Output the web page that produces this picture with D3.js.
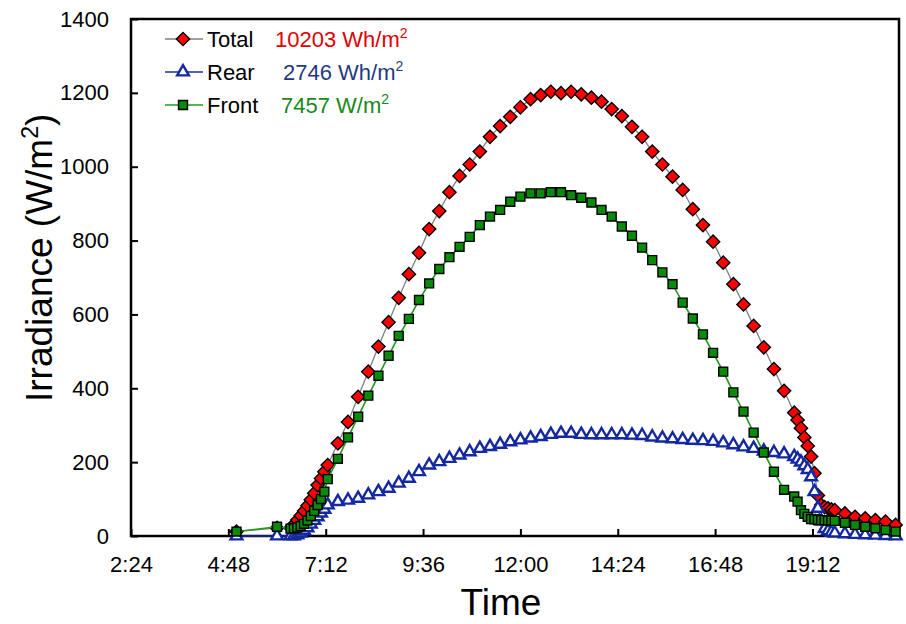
<!DOCTYPE html>
<meta charset="utf-8">
<style type="text/css">
body { margin: 0; background: #fff; }
svg { font-family: "Liberation Sans", Arial, sans-serif; }
.axis text { font-size: 22px; fill: #000; }
.axis line { stroke: #000; stroke-width: 2; }
.axis path { display: none; }
.frame { fill: none; stroke: #000; stroke-width: 2.5; }
</style>
<body>
<script src="https://d3js.org/d3.v7.min.js"></script>
<script>

// sample times (h:mm) shared by the three series
var times = ["5:00","6:00",
  "6:20","6:25","6:30","6:35","6:40","6:45","6:50","6:55","7:00","7:05","7:10",
  "7:15","7:30","7:45","8:00","8:15","8:30","8:45","9:00","9:15","9:30",
  "9:45","10:00","10:15","10:30","10:45","11:00","11:15","11:30","11:45","12:00","12:15","12:30","12:45","13:00","13:15",
  "13:30","13:45","14:00","14:15","14:30","14:45","15:00","15:15","15:30","15:45","16:00","16:15","16:30","16:45",
  "17:00","17:15","17:30","17:45","18:00","18:15","18:30","18:45",
  "18:50","18:55","19:00","19:05","19:10","19:15","19:20","19:25","19:30","19:35","19:40",
  "19:45","20:00","20:15","20:30","20:45","21:00","21:15"];

var total = [12, 22,
  22, 30, 43, 55, 68, 82, 98, 116, 138, 156, 174,
  192, 251, 309, 377, 445, 513, 579, 645, 709, 767,
  831, 880, 931, 975, 1006, 1041, 1081, 1110, 1135, 1161, 1183, 1194, 1203, 1199, 1203,
  1196, 1187, 1176, 1156, 1137, 1108, 1081, 1041, 1006, 973, 937, 885, 842, 797,
  740, 682, 627, 569, 511, 452, 393, 334,
  314, 292, 267, 244, 215, 170, 110, 84, 78, 75, 72,
  70, 61, 52, 48, 43, 39, 30];

var rear = [0, 0,
  0, 0, 3, 8, 14, 22, 32, 42, 52, 62, 72,
  84, 93, 97, 102, 111, 120, 129, 143, 156, 174,
  192, 201, 210, 219, 228, 237, 242, 248, 255, 260, 265, 269, 275, 278, 278,
  275, 274, 274, 274, 274, 273, 272, 268, 265, 263, 261, 259, 258, 256,
  252, 247, 241, 237, 230, 226, 222, 215,
  208, 200, 190, 180, 160, 120, 75, 40, 20, 14, 10,
  8, 6, 4, 3, 2, 1, 0];

var front = [12, 25,
  20, 21, 23, 27, 33, 42, 54, 68, 84, 100, 120,
  154, 209, 267, 323, 380, 434, 488, 542, 588, 639,
  684, 723, 755, 783, 810, 842, 865, 883, 905, 919, 928, 928, 931, 931, 923,
  916, 903, 883, 865, 838, 813, 781, 747, 714, 682, 632, 589, 546, 496,
  445, 389, 337, 280, 226, 174, 125, 107,
  93, 70, 60, 52, 46, 45, 44, 43, 43, 42, 42,
  41, 36, 30, 25, 21, 16, 12];

var xTicks = ["2:24","4:48","7:12","9:36","12:00","14:24","16:48","19:12"];
var yTicks = [0, 200, 400, 600, 800, 1000, 1200, 1400];

var legendNames = ["Total", "Rear", "Front"];
var legendValues = ["10203 Wh/m", "2746 Wh/m", "7457 W/m"];

function toHours(s) {
  var p = s.split(":");
  return +p[0] + (+p[1]) / 60;
}
function fmtTime(h) {
  var m = Math.round(h * 60);
  return Math.floor(m / 60) + ":" + d3.format("02")(m % 60);
}

// margin convention
var margin = {top: 19, right: 7, bottom: 88, left: 131}
  , width = 906 - margin.left - margin.right
  , height = 624 - margin.top - margin.bottom;

var xScale = d3.scaleLinear()
    .domain([2.4, 21 + 1/3])
    .range([0, width]);

var yScale = d3.scaleLinear()
    .domain([0, 1400])
    .range([height, 0]);

var svg = d3.select("body").append("svg")
    .attr("width", 906)
    .attr("height", 624)
  .append("g")
    .attr("transform", "translate(" + margin.left + "," + margin.top + ")");

// axes, ticks point inward
svg.append("g")
    .attr("class", "x axis")
    .attr("transform", "translate(0," + height + ")")
    .call(d3.axisBottom(xScale)
      .tickValues(xTicks.map(toHours))
      .tickFormat(fmtTime)
      .tickSizeInner(-7).tickSizeOuter(0).tickPadding(20));

svg.append("g")
    .attr("class", "y axis")
    .call(d3.axisLeft(yScale)
      .tickValues(yTicks)
      .tickFormat(d3.format("d"))
      .tickSizeInner(-7).tickSizeOuter(0).tickPadding(22));

svg.append("rect")
    .attr("class", "frame")
    .attr("width", width)
    .attr("height", height);

// axis titles
svg.append("text")
    .attr("x", 370)
    .attr("y", height + 79)
    .attr("text-anchor", "middle")
    .style("font-size", "37px")
    .text("Time");

var yt = svg.append("text")
    .attr("transform", "translate(" + (-79) + "," + (height - 134) + ") rotate(-90)")
    .attr("text-anchor", "start")
    .style("font-size", "37px");
yt.append("tspan").text("Irradiance (W/m");
yt.append("tspan").attr("dy", -14).style("font-size", "23px").text("2");
yt.append("tspan").attr("dy", 14).text(")");

// series
var series = [
  {name: "Total", values: total, line: "#808080", lw: 1.3},
  {name: "Rear", values: rear, line: "#1b2a9c", lw: 1.3},
  {name: "Front", values: front, line: "#1f9a1f", lw: 1.6}
];

function drawMarker(sel, name) {
  if (name == "Total") {
    sel.attr("d", d3.symbol().type(d3.symbolSquare).size(88))
      .attr("fill", "#ff0000").attr("stroke", "#000").attr("stroke-width", 1.4);
  } else if (name == "Rear") {
    sel.attr("d", d3.symbol().type(d3.symbolTriangle).size(60))
      .attr("fill", "#fff").attr("stroke", "#1428a0").attr("stroke-width", 2.4);
  } else {
    sel.attr("d", d3.symbol().type(d3.symbolSquare).size(80))
      .attr("fill", "#0a8a0a").attr("stroke", "#000").attr("stroke-width", 1.4);
  }
}

var line = d3.line()
    .x(function(d) { return xScale(d.x); })
    .y(function(d) { return yScale(d.y); });

series.forEach(function(s) {
  var data = times.map(function(t, i) { return {x: toHours(t), y: s.values[i]}; });
  var g = svg.append("g").attr("class", "series");
  g.append("path")
      .datum(data)
      .attr("fill", "none")
      .attr("stroke", s.line)
      .attr("stroke-width", s.lw)
      .attr("d", line);
  g.selectAll(".dot")
      .data(data)
    .enter().append("path")
      .attr("class", "dot")
      .attr("transform", function(d) {
        return "translate(" + xScale(d.x) + "," + yScale(d.y) + ")" + (s.name == "Total" ? " rotate(45)" : "");
      })
      .call(drawMarker, s.name);
});

// legend
var valueColors = ["#e00000", "#1f3a80", "#178a17"];
var valueX = [144, 152, 150];
var leg = svg.append("g").attr("transform", "translate(0,0)");
legendNames.forEach(function(name, i) {
  var cy = 20 + i * 33;
  var row = leg.append("g").attr("transform", "translate(0," + cy + ")");
  row.append("line")
      .attr("x1", 34).attr("x2", 72)
      .attr("stroke", series[i].line).attr("stroke-width", series[i].lw);
  row.append("path")
      .attr("transform", "translate(52,0)" + (name == "Total" ? " rotate(45)" : ""))
      .call(drawMarker, name);
  row.append("text")
      .attr("x", 76).attr("y", 7.5)
      .style("font-size", "22px")
      .text(name);
  var vt = row.append("text")
      .attr("x", valueX[i]).attr("y", 7.5)
      .attr("fill", valueColors[i])
      .style("font-size", "22px");
  vt.append("tspan").text(legendValues[i]);
  vt.append("tspan").attr("dy", -9).style("font-size", "14px").text("2");
});

</script>
</body>
